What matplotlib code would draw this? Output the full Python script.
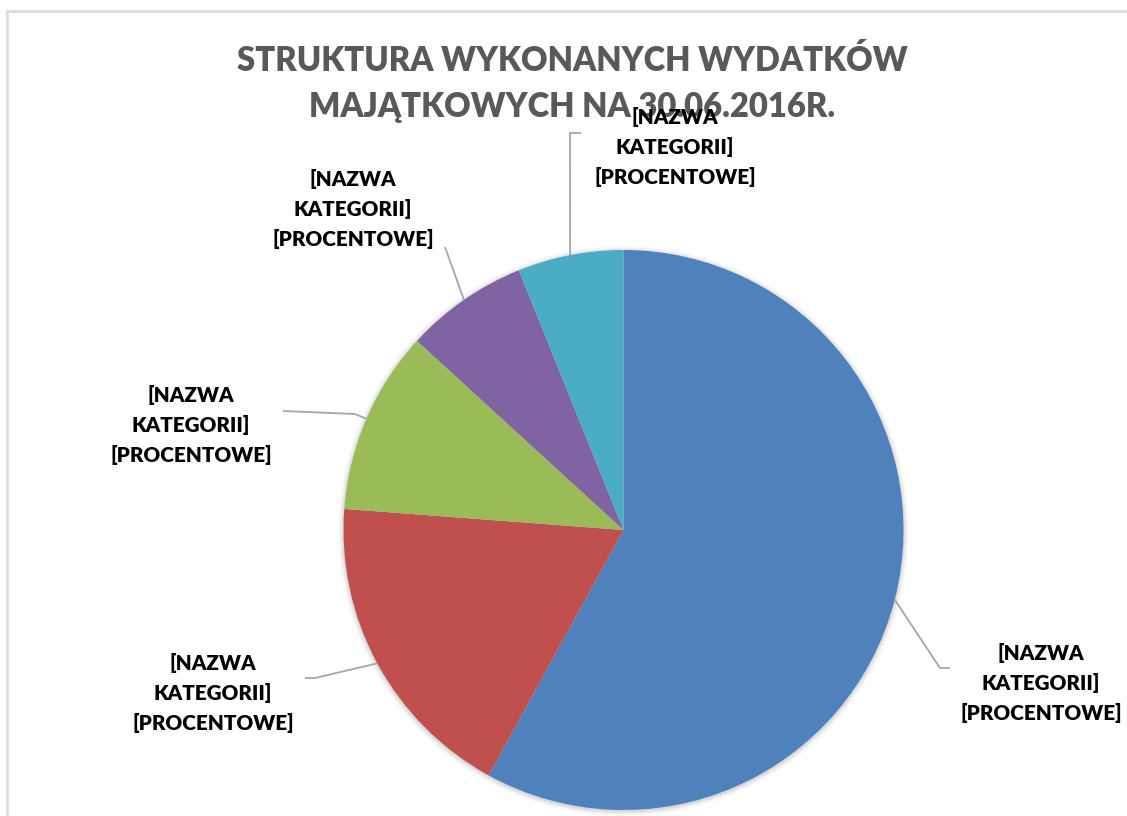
import numpy as np
import matplotlib
matplotlib.use("Agg")
import matplotlib.pyplot as plt
from matplotlib.patches import Circle, Rectangle

# ---- data ----
categories = ["[NAZWA\nKATEGORII]\n[PROCENTOWE]"] * 5
values = [58.0, 18.2, 10.6, 7.1, 6.1]
colors = ["#4F81BD", "#C0504D", "#9BBB59", "#8064A2", "#4BACC6"]
title_lines = ["STRUKTURA WYKONANYCH WYDATKÓW", "MAJĄTKOWYCH NA 30.06.2016R."]

W, H = 1127, 816
fam = ["Lato", "DejaVu Sans"]
WEIGHT = "heavy"

fig = plt.figure(figsize=(W / 100, H / 100), dpi=100)
ax = fig.add_axes([0, 0, 1, 1])
renderer = fig.canvas.get_renderer()


def fitted_size(text, target_w, base=20):
    t = fig.text(0, 0, text, fontsize=base, fontweight=WEIGHT, family=fam)
    w = t.get_window_extent(renderer).width
    t.remove()
    return base * target_w / w


cx, cy, R = 623.5, H - 530, 280

# soft shadow halo
for i, a in enumerate([0.05, 0.04, 0.03, 0.02, 0.012]):
    ax.add_patch(Circle((cx, cy - 1), R + 1 + i * 1.2, color="#000000", alpha=a, lw=0, zorder=0))

wedges, _ = ax.pie(values, colors=colors, startangle=90, counterclock=False,
                   center=(cx, cy), radius=R, wedgeprops=dict(linewidth=0))
for w in wedges:
    w.set_zorder(2)

ax.set_xlim(0, W)
ax.set_ylim(0, H)
ax.set_aspect("equal")
ax.axis("off")

# chart border
ax.add_patch(Rectangle((7, -20), W + 50, (H - 11) + 20, fill=False,
                       edgecolor="#DCDCDC", lw=2, zorder=1))

# title
ts = fitted_size(title_lines[0], 671)
for line, by in zip(title_lines, [71, 117]):
    ax.text(572, H - by, line, ha="center", va="baseline", fontsize=ts,
            fontweight=WEIGHT, color="#595959", family=fam, zorder=5)

# label layout: (text centre x, first baseline y), leader elbow points (pixel coords, top-left origin)
ls = fitted_size("[PROCENTOWE]", 161)
label_pos = [(1041, 660), (213, 670), (191, 402), (353, 186), (675, 124)]
elbows = [[(940, 668), (950, 668)],
          [(315, 678), (305, 678)],
          [(355, 414), (283, 411)],
          [(445, 247)],
          [(570, 133), (581, 133)]]

for w, lab, (tx, ty), elb in zip(wedges, categories, label_pos, elbows):
    mid = np.deg2rad((w.theta1 + w.theta2) / 2)
    px, py = cx + R * np.cos(mid), cy + R * np.sin(mid)
    xs = [px] + [e[0] for e in elb]
    ys = [py] + [H - e[1] for e in elb]
    ax.plot(xs, ys, color="#A6A6A6", lw=1.3, zorder=3, solid_capstyle="butt")
    for i, line in enumerate(lab.split("\n")):
        ax.text(tx, H - (ty + 30 * i), line, ha="center", va="baseline", fontsize=ls,
                fontweight=WEIGHT, color="#000000", family=fam, zorder=6)

fig.savefig("out.png", dpi=100, facecolor="white")
